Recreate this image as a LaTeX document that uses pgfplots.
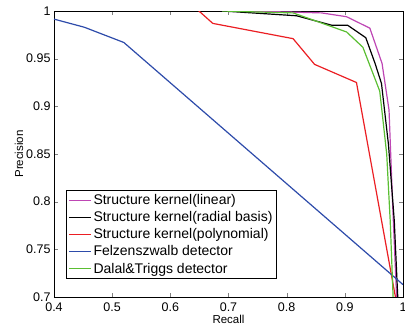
\documentclass[border=0pt]{standalone}
\usepackage{pgfplots}
\pgfplotsset{compat=1.18}
\usepackage{fontspec}
\setmainfont{Liberation Sans}
\definecolor{cmag}{RGB}{190,70,180}
\definecolor{cred}{RGB}{235,30,35}
\definecolor{cblue}{RGB}{45,75,170}
\definecolor{cgreen}{RGB}{90,190,50}
\begin{document}
\begin{tikzpicture}[x=1pt,y=1pt]
\useasboundingbox (-54,-30) rectangle (351,297);
\begin{axis}[
  at={(0,0)}, anchor=south west,
  scale only axis, width=349pt, height=286pt,
  xmin=0.4, xmax=1, ymin=0.7, ymax=1,
  xtick={0.4,0.5,0.6,0.7,0.8,0.9,1},
  ytick={0.7,0.75,0.8,0.85,0.9,0.95,1},
  xticklabels={0.4,0.5,0.6,0.7,0.8,0.9,1},
  yticklabels={0.7,0.75,0.8,0.85,0.9,0.95,1},
  tick align=inside, tick pos=both,
  major tick length=4pt,
  tick label style={font=\fontsize{12.5}{13}\selectfont},
  xticklabel style={yshift=-2.5pt},
  xlabel={Recall}, ylabel={Precision},
  label style={font=\fontsize{11.5}{12}\selectfont},
  xlabel style={yshift=4pt},
  ylabel style={yshift=-4pt},
  axis line style={line width=0.9pt},
  clip=true,
  legend style={at={(0.035,0.063)}, anchor=south west, draw=black, line width=0.8pt,
    font=\fontsize{14}{15}\selectfont, inner sep=2pt, row sep=1.5pt, fill=white},
  legend cell align=left,
  legend image code/.code={\draw[#1, line width=0.9pt] (0pt,0pt) -- (22pt,0pt);},
]
\addplot[cmag, line width=1.2pt] coordinates {(0.70,1.0) (0.80,0.999) (0.86,0.998) (0.903,0.994) (0.943,0.982) (0.964,0.945) (0.976,0.896) (0.982,0.8) (0.989,0.70)};
\addlegendentry{Structure kernel(linear)}
\addplot[black, line width=1.2pt] coordinates {(0.69,1.0) (0.817,0.995) (0.878,0.985) (0.905,0.985) (0.936,0.972) (0.952,0.945) (0.963,0.924) (0.975,0.86) (0.985,0.78) (0.991,0.70)};
\addlegendentry{Structure kernel(radial basis)}
\addplot[cred, line width=1.2pt] coordinates {(0.640,1.005) (0.673,0.987) (0.811,0.971) (0.848,0.944) (0.920,0.925) (0.987,0.70)};
\addlegendentry{Structure kernel(polynomial)}
\addplot[cblue, line width=1.2pt] coordinates {(0.4,0.9915) (0.452,0.983) (0.520,0.967) (1.0,0.713)};
\addlegendentry{Felzenszwalb detector}
\addplot[cgreen, line width=1.2pt] coordinates {(0.689,1.0) (0.811,0.998) (0.848,0.990) (0.903,0.978) (0.931,0.962) (0.960,0.916) (0.972,0.85) (0.978,0.78) (0.983,0.70)};
\addlegendentry{Dalal\&Triggs detector}
\end{axis}
\end{tikzpicture}
\end{document}
